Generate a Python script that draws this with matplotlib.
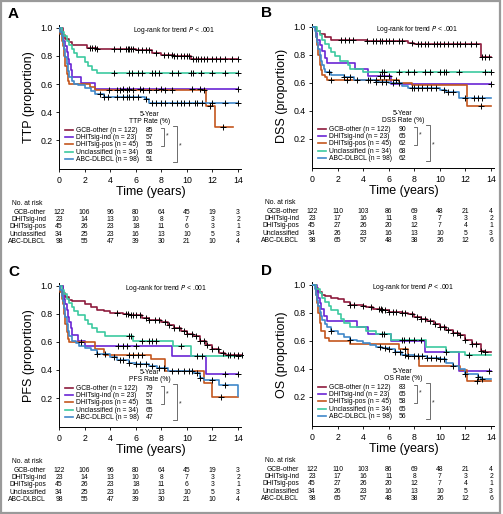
import numpy as np
import matplotlib
matplotlib.use("Agg")
import matplotlib.pyplot as plt
from matplotlib.patches import Rectangle

plt.rcParams["font.family"] = ["Liberation Sans Narrow", "Liberation Sans", "DejaVu Sans"]
plt.rcParams["mathtext.fontset"] = "custom"
plt.rcParams["mathtext.it"] = "Liberation Sans Narrow:italic"
plt.rcParams["mathtext.rm"] = "Liberation Sans Narrow"
plt.rcParams["xtick.direction"] = "out"
plt.rcParams["ytick.direction"] = "out"
plt.rcParams["xtick.major.size"] = 2.5
plt.rcParams["ytick.major.size"] = 2.5
plt.rcParams["xtick.major.width"] = 0.6
plt.rcParams["ytick.major.width"] = 0.6
plt.rcParams["axes.linewidth"] = 0.7

# ---- data --------------------------------------------------------------
groups = ["GCB-other", "DHITsig-ind", "DHITsig-pos", "Unclassified", "ABC-DLBCL"]
group_n = [122, 23, 45, 34, 98]
colors = ["#8e1b3d", "#6a25d4", "#c4561e", "#3cc9a0", "#3f88c9"]

risk_times = [0, 2, 4, 6, 8, 10, 12, 14]

# TTP (panel A)
ttp_gcb_t = [0.3, 0.5, 0.8, 1.0, 2.2, 3.0, 6.0, 7.3, 8.0, 9.0, 10.3]
ttp_gcb_s = [0.95, 0.92, 0.90, 0.88, 0.86, 0.85, 0.84, 0.82, 0.81, 0.80, 0.78]
ttp_gcb_c = [2.4, 2.6, 2.8, 3.0, 4.3, 4.8, 5.2, 5.4, 5.5, 5.6, 5.8, 6.2, 6.5, 6.8, 7.0, 7.6, 8.2, 8.5,
             8.8, 9.0, 9.2, 9.5, 9.8, 10.0, 10.2, 10.5, 10.7, 10.9, 11.1, 11.3, 11.6, 12.0, 12.3, 12.6,
             13.0, 13.5, 14.0]
ttp_ind_t = [0.2, 0.3, 0.5, 0.6, 0.7, 0.8, 0.9, 1.0, 1.7, 2.8]
ttp_ind_s = [0.96, 0.91, 0.87, 0.83, 0.78, 0.74, 0.70, 0.65, 0.61, 0.565]
ttp_ind_c = [5.0, 5.5, 6.3, 8.0, 10.4, 11.0, 14.0]
ttp_pos_t = [0.1, 0.2, 0.3, 0.4, 0.5, 0.6, 0.7, 0.8, 2.4, 2.8, 11.5, 12.2]
ttp_pos_s = [0.96, 0.91, 0.87, 0.80, 0.73, 0.67, 0.62, 0.60, 0.575, 0.555, 0.44, 0.29]
ttp_pos_c = [3.9, 4.5, 4.8, 5.3, 5.8, 6.6, 7.0, 7.6, 8.3, 8.8, 11.3, 11.8, 12.8]
ttp_unc_t = [0.2, 0.4, 0.6, 0.8, 1.0, 1.2, 1.4, 2.0, 2.3, 2.6, 3.0]
ttp_unc_s = [0.97, 0.94, 0.91, 0.88, 0.85, 0.82, 0.79, 0.76, 0.73, 0.70, 0.675]
ttp_unc_c = [4.3, 5.5, 5.7, 6.2, 6.5, 7.3, 7.5, 7.8, 8.8, 9.3, 10.3, 10.5, 11.1, 12.0, 13.0, 14.0]
ttp_abc_t = [0.1, 0.2, 0.3, 0.4, 0.5, 0.6, 0.7, 0.8, 1.0, 1.2, 1.5, 2.0, 2.5, 2.8, 3.5, 6.7, 7.0]
ttp_abc_s = [0.97, 0.94, 0.90, 0.85, 0.79, 0.74, 0.69, 0.65, 0.62, 0.60, 0.59, 0.57, 0.55, 0.53,
             0.507, 0.49, 0.466]
ttp_abc_c = [3.2, 3.5, 3.8, 4.5, 5.0, 5.3, 5.5, 5.8, 6.2, 6.8, 7.3, 7.6, 8.0, 8.3, 8.8, 9.2, 9.5,
             9.8, 10.2, 10.6, 10.8, 11.2, 12.0, 13.0, 14.0]
ttp_end = [14.0, 14.0, 13.6, 14.0, 14.0]
ttp_rate = [85, 57, 55, 68, 51]
ttp_risk = [[122, 106, 96, 80, 64, 45, 19, 3],
            [23, 14, 13, 10, 8, 7, 3, 2],
            [45, 26, 23, 18, 11, 6, 3, 1],
            [34, 25, 23, 16, 13, 10, 5, 3],
            [98, 55, 47, 39, 30, 21, 10, 4]]

# DSS (panel B)
dss_gcb_t = [0.3, 0.6, 1.0, 1.5, 4.3, 7.5, 8.0, 13.2]
dss_gcb_s = [0.97, 0.95, 0.93, 0.907, 0.898, 0.888, 0.876, 0.786]
dss_gcb_c = [2.3, 2.6, 2.9, 3.2, 4.3, 4.8, 5.0, 5.3, 5.5, 5.8, 6.0, 6.3, 6.8, 7.0, 7.8, 8.3, 8.5, 8.8,
             9.1, 9.5, 9.8, 10.0, 10.3, 10.6, 11.0, 11.3, 11.6, 12.0, 12.4, 12.8, 13.3, 13.5, 13.8]
dss_ind_t = [0.3, 0.4, 0.6, 0.8, 1.0, 1.2, 3.4, 4.4, 6.2]
dss_ind_s = [0.96, 0.91, 0.87, 0.83, 0.78, 0.74, 0.70, 0.65, 0.59]
dss_ind_c = [5.3, 5.6, 6.0, 14.0]
dss_pos_t = [0.3, 0.4, 0.5, 0.6, 0.7, 0.8, 1.0, 1.2, 6.8, 7.8, 12.1]
dss_pos_s = [0.93, 0.87, 0.80, 0.73, 0.69, 0.66, 0.64, 0.62, 0.60, 0.584, 0.437]
dss_pos_c = [1.5, 2.7, 4.4, 5.0, 6.6, 13.2]
dss_unc_t = [0.4, 0.6, 0.8, 1.0, 1.3, 1.5, 1.8, 2.2, 2.8, 3.0, 4.0]
dss_unc_s = [0.97, 0.94, 0.91, 0.88, 0.85, 0.82, 0.79, 0.76, 0.73, 0.70, 0.675]
dss_unc_c = [5.5, 5.6, 6.8, 7.5, 8.0, 8.8, 9.2, 10.0, 10.3, 10.5, 11.5, 13.5, 14.0]
dss_abc_t = [0.2, 0.3, 0.4, 0.5, 0.6, 0.7, 0.8, 0.9, 1.0, 1.5, 2.5, 3.3, 5.0, 6.0, 7.0, 7.5, 10.0,
             10.5, 11.5]
dss_abc_s = [0.97, 0.93, 0.89, 0.84, 0.80, 0.76, 0.73, 0.70, 0.677, 0.66, 0.64, 0.62, 0.61, 0.60,
             0.58, 0.563, 0.55, 0.537, 0.49]
dss_abc_c = [1.3, 2.5, 3.0, 3.5, 4.5, 5.0, 5.5, 5.8, 6.3, 6.8, 7.8, 8.0, 8.3, 8.6, 9.0, 9.3, 9.7,
             10.3, 10.6, 11.0, 12.0, 12.7, 13.0, 13.3]
dss_end = [14.0, 14.0, 14.0, 14.0, 14.0]
dss_rate = [90, 65, 62, 68, 62]
dss_risk = [[122, 110, 103, 86, 69, 48, 21, 4],
            [23, 17, 16, 11, 8, 7, 3, 2],
            [45, 27, 26, 20, 12, 7, 4, 1],
            [34, 26, 23, 16, 13, 10, 5, 3],
            [98, 65, 57, 48, 38, 26, 12, 6]]

# PFS (panel C)
pfs_gcb_t = [0.3, 0.5, 0.8, 1.0, 2.0, 2.5, 3.0, 3.5, 4.0, 5.0, 5.5, 6.5, 7.0, 8.0, 8.5, 9.0, 9.5,
             10.0, 10.5, 11.0, 11.5, 12.0, 12.5, 13.0]
pfs_gcb_s = [0.95, 0.92, 0.90, 0.89, 0.87, 0.85, 0.83, 0.82, 0.81, 0.80, 0.79, 0.77, 0.76, 0.74,
             0.72, 0.70, 0.68, 0.66, 0.64, 0.61, 0.58, 0.55, 0.52, 0.508]
pfs_gcb_c = [4.5, 5.2, 5.4, 5.6, 5.8, 6.0, 6.3, 6.8, 7.0, 7.5, 7.8, 8.3, 8.6, 9.0, 9.4, 9.8, 10.0,
             10.4, 10.7, 11.0, 11.3, 11.6, 12.0, 12.4, 12.8, 13.2, 13.4, 13.7, 14.0, 14.3]
pfs_ind_t = [0.3, 0.4, 0.5, 0.6, 0.7, 0.8, 0.9, 1.0, 1.5, 2.0, 8.8, 11.5]
pfs_ind_s = [0.96, 0.91, 0.87, 0.83, 0.78, 0.74, 0.70, 0.65, 0.61, 0.57, 0.50, 0.37]
pfs_ind_c = [4.6, 5.0, 5.3, 6.0, 13.0, 14.0]
pfs_pos_t = [0.1, 0.2, 0.3, 0.4, 0.5, 0.6, 0.7, 0.8, 2.8, 3.5, 7.2, 8.3, 11.3, 12.0]
pfs_pos_s = [0.96, 0.91, 0.87, 0.80, 0.73, 0.67, 0.62, 0.60, 0.553, 0.51, 0.48, 0.39, 0.307, 0.205]
pfs_pos_c = [1.7, 5.5, 5.8, 6.2, 6.5, 12.7]
pfs_unc_t = [0.2, 0.4, 0.6, 0.8, 1.0, 1.2, 1.5, 2.0, 2.3, 2.6, 3.0, 3.6, 5.8, 8.9, 10.3]
pfs_unc_s = [0.97, 0.94, 0.91, 0.88, 0.85, 0.82, 0.79, 0.76, 0.73, 0.70, 0.67, 0.64, 0.605, 0.57, 0.503]
pfs_unc_c = [5.5, 5.6, 6.5, 7.0, 7.3, 7.6, 9.5, 10.8, 11.2, 14.0]
pfs_abc_t = [0.1, 0.2, 0.3, 0.4, 0.5, 0.6, 0.7, 0.8, 1.0, 1.3, 1.6, 2.0, 2.5, 3.0, 4.0, 4.5, 5.5,
             6.0, 7.0, 7.7, 8.5, 10.5, 11.0, 11.3, 12.5, 14.0]
pfs_abc_s = [0.97, 0.93, 0.89, 0.84, 0.78, 0.73, 0.68, 0.64, 0.61, 0.59, 0.575, 0.56, 0.54, 0.517,
             0.49, 0.47, 0.45, 0.44, 0.43, 0.415, 0.395, 0.38, 0.34, 0.33, 0.295, 0.215]
pfs_abc_c = [3.0, 3.6, 4.3, 4.8, 5.0, 5.5, 6.0, 6.3, 6.8, 7.3, 7.8, 8.2, 8.8, 9.3, 9.8, 10.2, 10.4,
             10.8, 11.0, 12.0, 13.0]
pfs_end = [14.3, 14.0, 14.0, 14.3, 14.0]
pfs_rate = [79, 57, 51, 65, 47]
pfs_risk = ttp_risk

# OS (panel D)
os_gcb_t = [0.3, 0.5, 0.8, 1.0, 1.5, 2.0, 2.5, 3.0, 4.0, 4.2, 4.8, 5.5, 6.0, 7.0, 7.5, 8.0, 8.5,
            9.0, 9.5, 10.0, 10.5, 11.0, 11.5, 12.0, 12.5, 13.2, 13.5]
os_gcb_s = [0.98, 0.95, 0.93, 0.92, 0.91, 0.90, 0.88, 0.86, 0.85, 0.84, 0.83, 0.82, 0.81, 0.80,
            0.79, 0.77, 0.76, 0.74, 0.72, 0.70, 0.68, 0.66, 0.64, 0.61, 0.58, 0.53, 0.52]
os_gcb_c = [3.0, 3.3, 4.0, 4.6, 5.2, 5.4, 5.5, 5.7, 6.0, 6.3, 6.6, 7.0, 7.3, 7.8, 8.2, 8.5, 8.8,
            9.2, 9.6, 10.0, 10.3, 10.6, 11.0, 11.3, 11.6, 12.0, 12.5, 12.8, 13.2, 13.5]
os_ind_t = [0.4, 0.5, 0.6, 0.7, 0.9, 1.2, 3.5, 4.4, 6.2, 8.8, 11.5]
os_ind_s = [0.96, 0.91, 0.87, 0.83, 0.78, 0.74, 0.70, 0.65, 0.60, 0.52, 0.385]
os_ind_c = [5.5, 5.6, 13.8]
os_pos_t = [0.3, 0.4, 0.5, 0.6, 0.7, 1.0, 1.3, 3.0, 6.8, 7.5, 8.4, 11.6, 12.1]
os_pos_s = [0.93, 0.87, 0.80, 0.73, 0.67, 0.62, 0.60, 0.578, 0.54, 0.49, 0.42, 0.39, 0.315]
os_pos_c = [7.3, 7.5, 12.9]
os_unc_t = [0.3, 0.6, 0.8, 1.0, 1.3, 1.5, 2.0, 2.3, 2.5, 3.0, 4.2, 5.0, 6.2, 8.9, 10.5, 12.0]
os_unc_s = [0.97, 0.94, 0.91, 0.88, 0.85, 0.82, 0.79, 0.76, 0.73, 0.70, 0.67, 0.647, 0.61, 0.56,
            0.52, 0.50]
os_unc_c = [7.0, 7.2, 7.6, 8.0, 8.5, 10.5, 12.3]
os_abc_t = [0.2, 0.3, 0.4, 0.5, 0.6, 0.7, 0.8, 1.0, 1.2, 1.5, 2.0, 2.5, 3.0, 3.5, 4.0, 4.5, 5.0,
            5.5, 6.0, 6.5, 7.0, 8.0, 9.0, 10.0, 10.5, 11.0, 11.5, 12.0, 13.0, 13.2]
os_abc_s = [0.97, 0.93, 0.89, 0.85, 0.81, 0.78, 0.75, 0.72, 0.70, 0.67, 0.65, 0.63, 0.61, 0.60,
            0.586, 0.57, 0.56, 0.55, 0.54, 0.52, 0.50, 0.49, 0.476, 0.47, 0.44, 0.42, 0.40, 0.363,
            0.34, 0.33]
os_abc_c = [1.5, 3.0, 5.3, 5.7, 6.0, 6.5, 6.9, 7.3, 8.0, 8.3, 8.6, 9.0, 9.3, 9.7, 10.0, 10.3, 11.0,
            12.0, 13.0, 13.3]
os_end = [14.0, 14.0, 14.0, 14.0, 14.0]
os_rate = [83, 65, 58, 65, 56]
os_risk = dss_risk

panels = [
    ("A", "TTP", [(ttp_gcb_t, ttp_gcb_s, ttp_gcb_c), (ttp_ind_t, ttp_ind_s, ttp_ind_c),
                  (ttp_pos_t, ttp_pos_s, ttp_pos_c), (ttp_unc_t, ttp_unc_s, ttp_unc_c),
                  (ttp_abc_t, ttp_abc_s, ttp_abc_c)], ttp_end, ttp_rate, ttp_risk, 9.0),
    ("B", "DSS", [(dss_gcb_t, dss_gcb_s, dss_gcb_c), (dss_ind_t, dss_ind_s, dss_ind_c),
                  (dss_pos_t, dss_pos_s, dss_pos_c), (dss_unc_t, dss_unc_s, dss_unc_c),
                  (dss_abc_t, dss_abc_s, dss_abc_c)], dss_end, dss_rate, dss_risk, 8.2),
    ("C", "PFS", [(pfs_gcb_t, pfs_gcb_s, pfs_gcb_c), (pfs_ind_t, pfs_ind_s, pfs_ind_c),
                  (pfs_pos_t, pfs_pos_s, pfs_pos_c), (pfs_unc_t, pfs_unc_s, pfs_unc_c),
                  (pfs_abc_t, pfs_abc_s, pfs_abc_c)], pfs_end, pfs_rate, pfs_risk, 8.4),
    ("D", "OS", [(os_gcb_t, os_gcb_s, os_gcb_c), (os_ind_t, os_ind_s, os_ind_c),
                 (os_pos_t, os_pos_s, os_pos_c), (os_unc_t, os_unc_s, os_unc_c),
                 (os_abc_t, os_abc_s, os_abc_c)], os_end, os_rate, os_risk, 7.9),
]

# ---- layout ------------------------------------------------------------
W, H = 503, 514
fig = plt.figure(figsize=(W / 100, H / 100), dpi=100)
fig.patches.append(Rectangle((0.002, 0.001), 0.993, 0.997, transform=fig.transFigure,
                             fill=False, edgecolor="#9a9a9a", linewidth=1.6))

# (left px, px of y=0 line)
ax_pos = [(59, 168), (312, 167), (59, 426), (312, 425)]
px_per_year = 12.79
px_per_unit = 140.0
xlim = (0, 14.4)
ylim = (-0.01, 1.02)
fs_small = 4.9


def step_value(t, s, x):
    v = 1.0
    for ti, si in zip(t, s):
        if ti <= x:
            v = si
    return v


for (letter, name, curves, ends, rates, risk, lr_x), (lpx, zpx) in zip(panels, ax_pos):
    wpx = (xlim[1] - xlim[0]) * px_per_year
    bottom_px = zpx - ylim[0] * px_per_unit
    hpx = (ylim[1] - ylim[0]) * px_per_unit
    ax = fig.add_axes([lpx / W, (H - bottom_px) / H, wpx / W, hpx / H])
    ax.set_xlim(*xlim)
    ax.set_ylim(*ylim)
    for sp in ["top", "right"]:
        ax.spines[sp].set_visible(False)
    ax.spines["left"].set_bounds(0, 1.02)
    ax.spines["bottom"].set_bounds(0, 14.2)
    ax.set_xticks(risk_times)
    ax.set_yticks([0.2, 0.4, 0.6, 0.8, 1.0])
    ax.set_yticklabels(["0.2", "0.4", "0.6", "0.8", "1.0"])
    ax.tick_params(labelsize=6.3, pad=2)
    ax.set_ylabel(f"{name} (proportion)", fontsize=9, labelpad=4)
    ax.set_xlabel("Time (years)", fontsize=9, labelpad=1)

    for i, ((t, s, c), end) in enumerate(zip(curves, ends)):
        tt = [0.0] + list(t) + [end]
        ss = [1.0] + list(s) + [s[-1]]
        ax.step(tt, ss, where="post", color=colors[i], linewidth=1.2, zorder=3)
        cy = [step_value(t, s, x) for x in c]
        ax.plot(c, cy, linestyle="none", marker="+", markersize=4.5, markeredgewidth=0.7,
                color="black", zorder=4)

    ax.text(lr_x, 0.985, "Log-rank for trend $P$ < .001", fontsize=fs_small, ha="center", va="center")

    # legend block
    rows_y = [0.271, 0.221, 0.171, 0.114, 0.064]
    for i, y in enumerate(rows_y):
        ax.plot([0.5, 1.1], [y, y], color=colors[i], linewidth=1.2)
        ax.text(1.3, y, f"{groups[i]} (n = {group_n[i]})", fontsize=fs_small, va="center")
        ax.text(7.1, y, str(rates[i]), fontsize=fs_small, va="center", ha="center")
    ax.text(7.1, 0.305, f"5-Year\n{name} Rate (%)", fontsize=fs_small, ha="center", va="bottom",
            linespacing=1.05)
    bc = "#555555"
    ax.plot([7.95, 8.2, 8.2, 7.95], [rows_y[0] + 0.012, rows_y[0] + 0.012,
                                     rows_y[2] - 0.012, rows_y[2] - 0.012], color=bc, lw=0.6)
    ax.text(8.5, rows_y[1] + 0.005, "*", fontsize=5, ha="center", va="center", color="#333")
    ax.plot([8.95, 9.2, 9.2, 8.95], [rows_y[0] + 0.03, rows_y[0] + 0.03,
                                     rows_y[4] - 0.02, rows_y[4] - 0.02], color=bc, lw=0.6)
    ax.text(9.5, rows_y[2] - 0.01, "*", fontsize=5, ha="center", va="center", color="#333")

    # panel letter
    ax.text(-51 / px_per_year, 1.0 + 14 / px_per_unit, letter, fontsize=11, fontweight="bold",
            ha="left", va="center", family="Liberation Sans")

    # number at risk table
    ax.annotate("No. at risk", xy=(-3.7, 0), xycoords=("data", "axes fraction"),
                xytext=(0, -34 * 0.72), textcoords="offset points",
                fontsize=fs_small, ha="left", va="center")
    for i in range(len(groups)):
        off = -(41.5 + 7.3 * i) * 0.72 + ylim[0] * px_per_unit * 0.72
        ax.annotate(groups[i], xy=(-1.0, 0), xycoords=("data", "axes fraction"),
                    xytext=(0, off), textcoords="offset points",
                    fontsize=fs_small, ha="right", va="center", annotation_clip=False)
        for x, n in zip(risk_times, risk[i]):
            ax.annotate(str(n), xy=(x, 0), xycoords=("data", "axes fraction"),
                        xytext=(0, off), textcoords="offset points",
                        fontsize=fs_small, ha="center", va="center", annotation_clip=False)

fig.savefig("out.png", dpi=100)
